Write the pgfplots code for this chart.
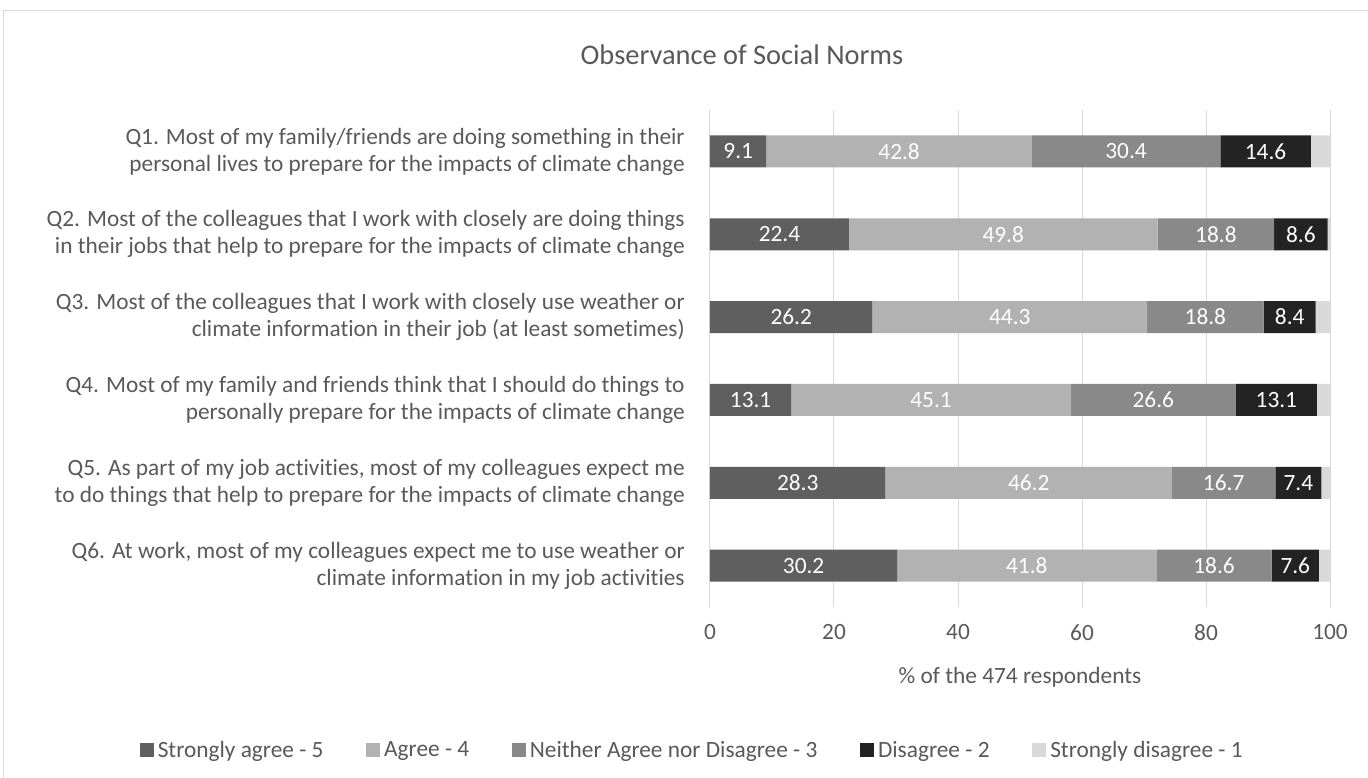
\documentclass[border=0pt]{standalone}
\usepackage{pgfplots}
\pgfplotsset{compat=1.18}
\usepackage{pgfplotstable}
\usepackage{fontspec}
\setmainfont{Carlito}[Ligatures=NoCommon]
\definecolor{txt}{HTML}{595959}
\definecolor{gridc}{HTML}{D9D9D9}
\definecolor{csa}{HTML}{5F5F5F}
\definecolor{ca}{HTML}{B2B2B2}
\definecolor{cn}{HTML}{898989}
\definecolor{cd}{HTML}{232323}
\definecolor{csd}{HTML}{D9D9D9}

\pgfplotstableread{
q sa a n d sd
0 9.1 42.8 30.4 14.6 3.1
1 22.4 49.8 18.8 8.6 0.4
2 26.2 44.3 18.8 8.4 2.3
3 13.1 45.1 26.6 13.1 2.1
4 28.3 46.2 16.7 7.4 1.4
5 30.2 41.8 18.6 7.6 1.8
}\data

\newcommand{\fs}{\fontsize{17.5}{20.25}\selectfont}

\pgfplotsset{
  geom/.style={
    at={(532.5pt,128.25pt)}, anchor=south west,
    scale only axis, width=465pt, height=372.75pt,
    xmin=0, xmax=100, enlarge x limits=false,
    ymin=-0.5, ymax=5.5, y dir=reverse,
  },
  lbl/.style={
    only marks, mark=*, mark size=0pt, mark options={draw=none, fill=none},
    point meta=explicit symbolic,
    nodes near coords={\pgfplotspointmeta},
    every node near coord/.style={anchor=center, text=white, font=\fs, inner sep=0pt},
  },
}

\begin{document}
\begin{tikzpicture}[x=0.75pt,y=0.75pt]
\path[use as bounding box] (0,0) rectangle (1368,778);
\draw[color=gridc, line width=0.75pt] (3.5,0) -- (3.5,767) -- (1368,767);
\node[font=\fontsize{21.3}{25}\selectfont, text=txt] at (742,723) {Observance of Social Norms};
\begin{axis}[
  geom,
  xbar stacked, bar width=24pt,
  axis line style={draw=none},
  xmajorgrids, grid style={gridc, line width=0.75pt},
  xtick={0,20,40,60,80,100},
  ytick={0,1,2,3,4,5},
  yticklabels={
    {Q1. Most of my family/friends are doing something in their\\personal lives to prepare for the impacts of climate change},
    {Q2. Most of the colleagues that I work with closely are doing things\\in their jobs that help to prepare for the impacts of climate change},
    {Q3. Most of the colleagues that I work with closely use weather or\\climate information in their job (at least sometimes)},
    {Q4. Most of my family and friends think that I should do things to\\personally prepare for the impacts of climate change},
    {Q5. As part of my job activities, most of my colleagues expect me\\to do things that help to prepare for the impacts of climate change},
    {Q6. At work, most of my colleagues expect me to use weather or\\climate information in my job activities}},
  major tick length=0pt,
  /pgf/number format/assume math mode=true,
  tick label style={font=\fs, text=txt},
  yticklabel style={align=right, inner sep=0pt, xshift=-18.75pt},
  xticklabel style={yshift=-9.5pt},
  xlabel={\% of the 474 respondents},
  every axis x label/.style={at={(axis description cs:0.5,-0.141)}, anchor=center, font=\fs, text=txt},
  legend columns=5,
  legend style={at={(axis description cs:-0.027,-0.288)}, anchor=center, draw=none, font=\fs, text=txt,
    nodes={inner xsep=3pt},
    /tikz/every even column/.append style={column sep=29pt},
    /tikz/every odd column/.append style={column sep=0pt}},
  legend image code/.code={\fill[#1] (0pt,-5pt) rectangle (10.5pt,5.5pt);},
]
\addplot[fill=csa, draw=none] table[x=sa, y=q] {\data};
\addplot[fill=ca, draw=none] table[x=a, y=q] {\data};
\addplot[fill=cn, draw=none] table[x=n, y=q] {\data};
\addplot[fill=cd, draw=none] table[x=d, y=q] {\data};
\addplot[fill=csd, draw=none] table[x=sd, y=q] {\data};
\legend{Strongly agree - 5, Agree - 4, Neither Agree nor Disagree - 3, Disagree - 2, Strongly disagree - 1}
\end{axis}
\begin{axis}[geom, hide axis]
\addplot[lbl] table[x expr={0.5*\thisrow{sa}}, y=q, meta=sa] {\data};
\addplot[lbl] table[x expr={\thisrow{sa}+0.5*\thisrow{a}}, y=q, meta=a] {\data};
\addplot[lbl] table[x expr={\thisrow{sa}+\thisrow{a}+0.5*\thisrow{n}}, y=q, meta=n] {\data};
\addplot[lbl] table[x expr={\thisrow{sa}+\thisrow{a}+\thisrow{n}+0.5*\thisrow{d}}, y=q, meta=d] {\data};
\end{axis}
\end{tikzpicture}
\end{document}
